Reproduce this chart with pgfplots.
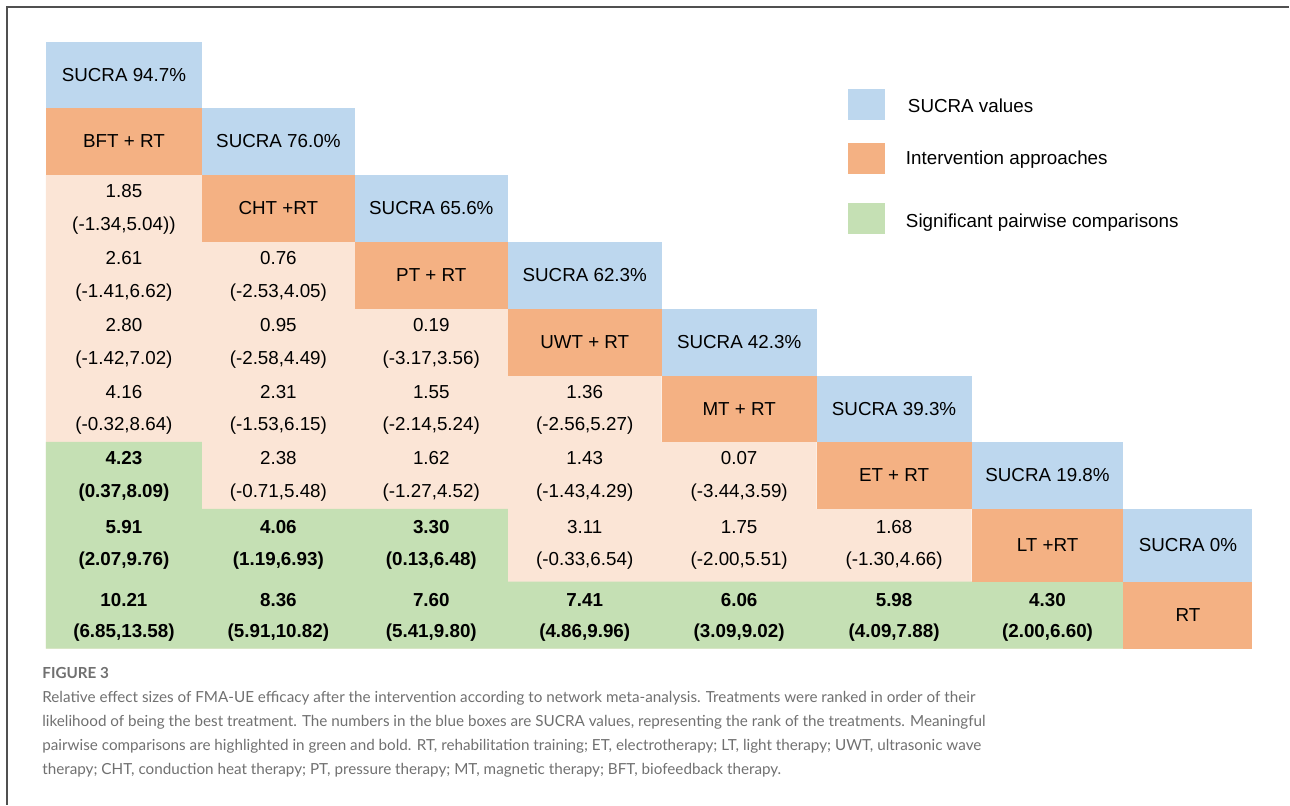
\documentclass[border=0pt]{standalone}
\usepackage{pgfplots}
\pgfplotsset{compat=1.18}
\usepackage{fontspec}
\setmainfont{Liberation Sans}
\newfontfamily\capfont{Lato}
\definecolor{cblue}{HTML}{BDD7EE}
\definecolor{corange}{HTML}{F4B183}
\definecolor{cpeach}{HTML}{FBE5D6}
\definecolor{cgreen}{HTML}{C5E0B4}
\definecolor{capgray}{RGB}{112,112,112}
\definecolor{framegray}{RGB}{80,80,80}
\newcommand{\tabfont}{\fontsize{9.4}{11}\selectfont}
\newcommand{\capsize}{\capfont\fontsize{7.62}{9}\selectfont}
\pgfplotsset{
  celltext/.style={only marks, mark=none, nodes near coords,
    point meta=explicit symbolic,
    every node near coord/.append style={anchor=center, inner sep=0pt, font=\tabfont, text=black}},
  cell/.style={draw=none, fill=#1},
}
\begin{document}
\begin{tikzpicture}
\begin{axis}[
  width=645pt, height=402.5pt, scale only axis,
  xmin=0, xmax=1290, ymin=0, ymax=805, y dir=reverse,
  hide axis, clip=false]
\path (axis cs:0,0) rectangle (axis cs:1290,805);
% frame
\addplot[draw=framegray, line width=0.6pt] coordinates {(7,805) (7,7) (1290,7)};
% peach region (non-significant comparisons)
\addplot[cell=cpeach] coordinates {(46,175) (202,175) (202,242) (355,242) (355,309) (508,309) (508,376) (662,376) (662,442) (817,442) (817,509) (972,509) (972,582) (1124,582) (1124,649) (46,649)} -- cycle;
% green region (significant comparisons)
\addplot[cell=cgreen] coordinates {(46,442) (202,442) (202,509) (508,509) (508,582) (1124,582) (1124,649) (46,649)} -- cycle;
% SUCRA cells
\addplot[cell=cblue] coordinates {(46,42) (202,42) (202,108) (46,108)} -- cycle;
\addplot[cell=cblue] coordinates {(202,108) (355,108) (355,175) (202,175)} -- cycle;
\addplot[cell=cblue] coordinates {(355,175) (508,175) (508,242) (355,242)} -- cycle;
\addplot[cell=cblue] coordinates {(508,242) (662,242) (662,309) (508,309)} -- cycle;
\addplot[cell=cblue] coordinates {(662,309) (817,309) (817,376) (662,376)} -- cycle;
\addplot[cell=cblue] coordinates {(817,376) (972,376) (972,442) (817,442)} -- cycle;
\addplot[cell=cblue] coordinates {(972,442) (1124,442) (1124,509) (972,509)} -- cycle;
\addplot[cell=cblue] coordinates {(1124,509) (1253,509) (1253,582) (1124,582)} -- cycle;
% intervention cells
\addplot[cell=corange] coordinates {(46,108) (202,108) (202,175) (46,175)} -- cycle;
\addplot[cell=corange] coordinates {(202,175) (355,175) (355,242) (202,242)} -- cycle;
\addplot[cell=corange] coordinates {(355,242) (508,242) (508,309) (355,309)} -- cycle;
\addplot[cell=corange] coordinates {(508,309) (662,309) (662,376) (508,376)} -- cycle;
\addplot[cell=corange] coordinates {(662,376) (817,376) (817,442) (662,442)} -- cycle;
\addplot[cell=corange] coordinates {(817,442) (972,442) (972,509) (817,509)} -- cycle;
\addplot[cell=corange] coordinates {(972,509) (1124,509) (1124,582) (972,582)} -- cycle;
\addplot[cell=corange] coordinates {(1124,582) (1253,582) (1253,649) (1124,649)} -- cycle;
% legend squares
\addplot[cell=cblue] coordinates {(848,89) (885,89) (885,120) (848,120)} -- cycle;
\addplot[cell=corange] coordinates {(848,143) (885,143) (885,174) (848,174)} -- cycle;
\addplot[cell=cgreen] coordinates {(848,203) (885,203) (885,234) (848,234)} -- cycle;
% SUCRA labels
\addplot[celltext] table[meta=t, col sep=semicolon, row sep=\\] {
x;y;t\\
124;75;SUCRA 94.7\%\\
278.5;141.5;SUCRA 76.0\%\\
431.5;208.5;SUCRA 65.6\%\\
585;275.5;SUCRA 62.3\%\\
739.5;342.5;SUCRA 42.3\%\\
894.5;409;SUCRA 39.3\%\\
1048;475.5;SUCRA 19.8\%\\
1188.5;545.5;SUCRA 0\%\\
};
% intervention labels
\addplot[celltext] table[meta=t, col sep=semicolon, row sep=\\] {
x;y;t\\
124;141.5;BFT + RT\\
278.5;208.5;CHT +RT\\
431.5;275.5;PT + RT\\
585;342.5;UWT + RT\\
739.5;409;MT + RT\\
894.5;475.5;ET + RT\\
1048;545.5;LT +RT\\
1188.5;615.5;RT\\
};
% non-significant effects
\addplot[celltext] table[meta=t, col sep=semicolon, row sep=\\] {
x;y;t\\
124;191.5;1.85\\
124;258.5;2.61\\
278.5;258.5;0.76\\
124;325.5;2.80\\
278.5;325.5;0.95\\
431.5;325.5;0.19\\
124;392;4.16\\
278.5;392;2.31\\
431.5;392;1.55\\
585;392;1.36\\
278.5;458.5;2.38\\
431.5;458.5;1.62\\
585;458.5;1.43\\
739.5;458.5;0.07\\
585;527;3.11\\
739.5;527;1.75\\
894.5;527;1.68\\
};
\addplot[celltext] table[meta=t, col sep=semicolon, row sep=\\] {
x;y;t\\
124;225.5;(-1.34,5.04))\\
124;292.5;(-1.41,6.62)\\
278.5;292.5;(-2.53,4.05)\\
124;359.5;(-1.42,7.02)\\
278.5;359.5;(-2.58,4.49)\\
431.5;359.5;(-3.17,3.56)\\
124;426;(-0.32,8.64)\\
278.5;426;(-1.53,6.15)\\
431.5;426;(-2.14,5.24)\\
585;426;(-2.56,5.27)\\
278.5;492.5;(-0.71,5.48)\\
431.5;492.5;(-1.27,4.52)\\
585;492.5;(-1.43,4.29)\\
739.5;492.5;(-3.44,3.59)\\
585;561;(-0.33,6.54)\\
739.5;561;(-2.00,5.51)\\
894.5;561;(-1.30,4.66)\\
};
% significant effects (bold)
\addplot[celltext, every node near coord/.append style={font=\tabfont\bfseries}] table[meta=t, col sep=semicolon, row sep=\\] {
x;y;t\\
124;458.5;4.23\\
124;527;5.91\\
278.5;527;4.06\\
431.5;527;3.30\\
124;600;10.21\\
278.5;600;8.36\\
431.5;600;7.60\\
585;600;7.41\\
739.5;600;6.06\\
894.5;600;5.98\\
1048;600;4.30\\
};
\addplot[celltext, every node near coord/.append style={font=\tabfont\bfseries}] table[meta=t, col sep=semicolon, row sep=\\] {
x;y;t\\
124;492.5;(0.37,8.09)\\
124;561;(2.07,9.76)\\
278.5;561;(1.19,6.93)\\
431.5;561;(0.13,6.48)\\
124;633;(6.85,13.58)\\
278.5;633;(5.91,10.82)\\
431.5;633;(5.41,9.80)\\
585;633;(4.86,9.96)\\
739.5;633;(3.09,9.02)\\
894.5;633;(4.09,7.88)\\
1048;633;(2.00,6.60)\\
};
% legend text
\node[anchor=west, inner sep=0pt, font=\tabfont] at (axis cs:908,106) {SUCRA values};
\node[anchor=west, inner sep=0pt, font=\tabfont] at (axis cs:906,160) {Intervention approaches};
\node[anchor=west, inner sep=0pt, font=\tabfont] at (axis cs:906,222.5) {Significant pairwise comparisons};
% caption
\node[anchor=base west, inner sep=0pt, font=\capsize\bfseries, text=capgray] at (axis cs:42,679) {FIGURE 3};
\node[anchor=base west, inner sep=0pt, font=\capsize, text=capgray] at (axis cs:42,702.5) {Relative effect sizes of FMA-UE efficacy after the intervention according to network meta-analysis. Treatments were ranked in order of their};
\node[anchor=base west, inner sep=0pt, font=\capsize, text=capgray] at (axis cs:42,726.8) {likelihood of being the best treatment. The numbers in the blue boxes are SUCRA values, representing the rank of the treatments. Meaningful};
\node[anchor=base west, inner sep=0pt, font=\capsize, text=capgray] at (axis cs:42,751) {pairwise comparisons are highlighted in green and bold. RT, rehabilitation training; ET, electrotherapy; LT, light therapy; UWT, ultrasonic wave};
\node[anchor=base west, inner sep=0pt, font=\capsize, text=capgray] at (axis cs:42,775.3) {therapy; CHT, conduction heat therapy; PT, pressure therapy; MT, magnetic therapy; BFT, biofeedback therapy.};
\end{axis}
\end{tikzpicture}
\end{document}
